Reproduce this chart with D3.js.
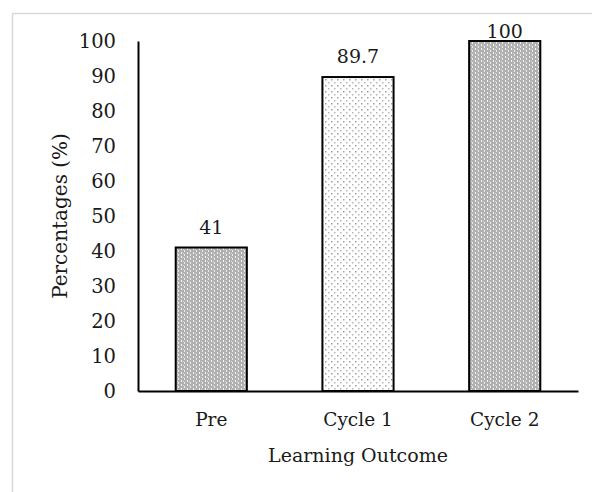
<!DOCTYPE html>
<html>
<head>
<meta charset="utf-8">
<script src="https://cdn.jsdelivr.net/npm/d3@7"></script>
<style>
  body { margin: 0; background: #fff; }
  text { font-family: "DejaVu Serif", "Liberation Serif", serif; fill: #1a1a1a; }
</style>
</head>
<body>
<div id="chart"></div>
<script>
var categories = ["Pre", "Cycle 1", "Cycle 2"];
var values = [41, 89.7, 100];
var fills = ["url(#dense)", "url(#sparse)", "url(#dense)"];
var yTicks = [0, 10, 20, 30, 40, 50, 60, 70, 80, 90, 100];

var w = 592, h = 492;
var margin = {top: 41, right: 14, bottom: 102, left: 138};

var svg = d3.select("#chart")
	.append("svg")
	.attr("width", w)
	.attr("height", h);

// frame
svg.append("rect")
	.attr("x", 12.5).attr("y", 13.5)
	.attr("width", w).attr("height", h)
	.style("fill", "none")
	.style("stroke", "#d9d9d9")
	.style("stroke-width", 1.5);

var defs = svg.append("defs");

// gray pattern with white dotted columns
var dense = defs.append("pattern")
	.attr("id", "dense")
	.attr("patternUnits", "userSpaceOnUse")
	.attr("width", 6).attr("height", 4);
dense.append("rect").attr("width", 6).attr("height", 4).style("fill", "#b0b0b0");
dense.append("rect").attr("x", 1).attr("y", 0).attr("width", 1).attr("height", 2).style("fill", "#f4f4f4");
dense.append("rect").attr("x", 4).attr("y", 2).attr("width", 1).attr("height", 2).style("fill", "#ececec");
dense.append("rect").attr("x", 3).attr("y", 1).attr("width", 1).attr("height", 1).style("fill", "#d6d6d6");

// white pattern with sparse gray dots
var sparse = defs.append("pattern")
	.attr("id", "sparse")
	.attr("patternUnits", "userSpaceOnUse")
	.attr("width", 6).attr("height", 6);
sparse.append("rect").attr("width", 6).attr("height", 6).style("fill", "#ffffff");
sparse.append("rect").attr("x", 1).attr("y", 1).attr("width", 1.5).attr("height", 1.5).style("fill", "#a0a0a0");
sparse.append("rect").attr("x", 4).attr("y", 4).attr("width", 1.5).attr("height", 1.5).style("fill", "#b8b8b8");

var x = d3.scaleBand()
	.domain(categories)
	.range([margin.left, w - margin.right])
	.paddingInner(0.515)
	.paddingOuter(0.257);

var y = d3.scaleLinear()
	.domain([0, 100])
	.range([h - margin.bottom + 1, margin.top]);

// bars
svg.selectAll(".bar")
	.data(values)
	.enter().append("rect")
	.attr("class", "bar")
	.attr("x", function(d, i) { return x(categories[i]); })
	.attr("y", function(d) { return y(d); })
	.attr("width", x.bandwidth())
	.attr("height", function(d) { return y(0) - y(d); })
	.style("fill", function(d, i) { return fills[i]; })
	.style("stroke", "#000")
	.style("stroke-width", 2);

// value labels (kept inside the chart area like Excel does)
svg.selectAll(".val")
	.data(values)
	.enter().append("text")
	.attr("class", "val")
	.attr("x", function(d, i) { return x(categories[i]) + x.bandwidth() / 2; })
	.attr("y", function(d) { return Math.max(y(d) - 14, 38); })
	.attr("text-anchor", "middle")
	.style("font-size", "19px")
	.text(function(d) { return d; });

// y axis
var yAxis = svg.append("g")
	.attr("transform", "translate(" + margin.left + ",0)")
	.call(d3.axisLeft(y).tickValues(yTicks).tickSize(0).tickPadding(22));
yAxis.select(".domain").style("stroke", "#000").style("stroke-width", 2);
yAxis.selectAll("text").style("font-size", "19.5px").style("fill", "#1a1a1a");

// x axis
var xAxis = svg.append("g")
	.attr("transform", "translate(0," + y(0) + ")")
	.call(d3.axisBottom(x).tickSize(0).tickPadding(22));
xAxis.select(".domain").style("stroke", "#000").style("stroke-width", 2);
xAxis.selectAll("text").style("font-size", "18.5px").style("fill", "#1a1a1a");

// axis titles
svg.append("text")
	.attr("transform", "translate(67," + ((margin.top + y(0)) / 2) + ") rotate(-90)")
	.attr("text-anchor", "middle")
	.style("font-size", "20px")
	.text("Percentages (%)");

svg.append("text")
	.attr("x", (margin.left + w - margin.right) / 2)
	.attr("y", 462)
	.attr("text-anchor", "middle")
	.style("font-size", "19px")
	.text("Learning Outcome");
</script>
</body>
</html>
